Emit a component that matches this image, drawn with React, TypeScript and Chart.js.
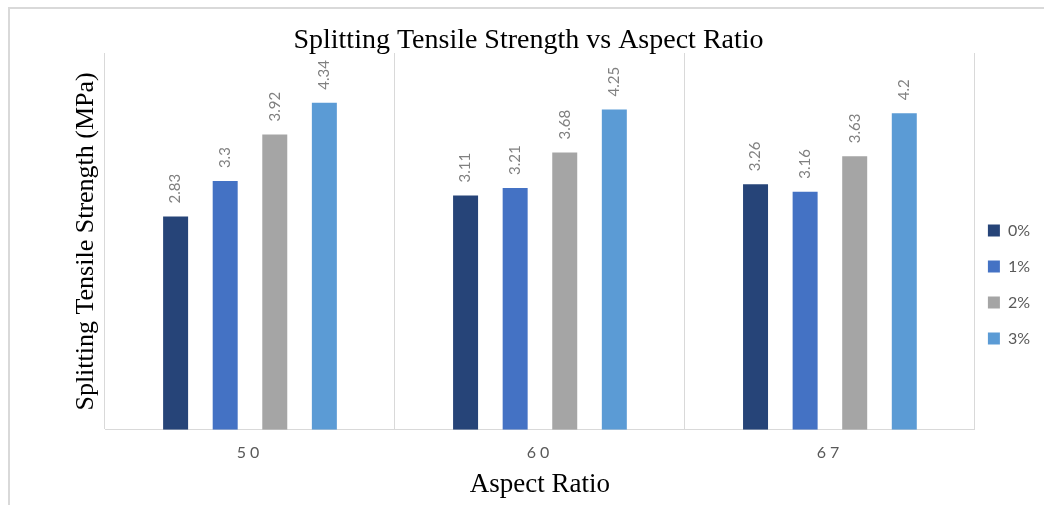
import React, { useEffect, useRef } from 'react';
import { Chart, registerables } from 'chart.js';

Chart.register(...registerables);

// Aspect ratio categories and fibre content series
const aspectRatios = ['50', '60', '67'];
const fiberContents = ['0%', '1%', '2%', '3%'];

// Splitting tensile strength (MPa) per fibre content
const strength0 = [2.83, 3.11, 3.26];
const strength1 = [3.3, 3.21, 3.16];
const strength2 = [3.92, 3.68, 3.63];
const strength3 = [4.34, 4.25, 4.2];

const seriesColors = ['#264478', '#4472C4', '#A5A5A5', '#5B9BD5'];

// Rotated value labels above each bar
const barValueLabels = {
  id: 'barValueLabels',
  afterDatasetsDraw(chart: any) {
    const ctx = chart.ctx;
    ctx.save();
    ctx.font = '15px Lato';
    ctx.fillStyle = '#808080';
    ctx.textAlign = 'left';
    ctx.textBaseline = 'middle';
    chart.data.datasets.forEach((ds: any, di: number) => {
      const meta = chart.getDatasetMeta(di);
      meta.data.forEach((bar: any, i: number) => {
        ctx.save();
        ctx.translate(bar.x, bar.y - 13);
        ctx.rotate(-Math.PI / 2);
        ctx.fillText(String(ds.data[i]), 0, 0);
        ctx.restore();
      });
    });
    ctx.restore();
  },
};

// Spread out the category tick labels a little
const spacedTicks = {
  id: 'spacedTicks',
  beforeDraw(chart: any) {
    const sc = chart.scales.x;
    if (sc && !sc._spaced) {
      const orig = sc.drawLabels.bind(sc);
      sc.drawLabels = (area: any) => {
        const c = chart.ctx;
        c.save();
        c.letterSpacing = '4px';
        orig(area);
        c.restore();
      };
      sc._spaced = true;
    }
  },
};

// Pull the legend closer to the plot area and lower it a bit
const legendNudge = {
  id: 'legendNudge',
  afterLayout(chart: any) {
    const lg = chart.legend;
    if (lg) {
      lg.left -= 7;
      lg.right -= 7;
      lg.top += 24;
      lg.bottom += 16;
    }
  },
};

export default function App() {
  const canvasRef = useRef<HTMLCanvasElement | null>(null);

  useEffect(() => {
    if (!canvasRef.current) return;
    const seriesValues = [strength0, strength1, strength2, strength3];
    const chart = new Chart(canvasRef.current, {
      type: 'bar',
      data: {
        labels: aspectRatios,
        datasets: fiberContents.map((name, i) => ({
          label: name,
          data: seriesValues[i],
          backgroundColor: seriesColors[i],
          borderWidth: 0,
          categoryPercentage: 0.684,
          barPercentage: 0.504,
        })),
      },
      options: {
        responsive: false,
        animation: false,
        devicePixelRatio: 1,
        layout: { padding: { left: 10, right: -3, top: 24, bottom: 0 } },
        plugins: {
          title: {
            display: true,
            text: 'Splitting Tensile Strength vs Aspect Ratio',
            color: '#000000',
            font: { family: '"Liberation Serif"', size: 28, weight: 'normal', lineHeight: 1 },
            padding: { top: 3, bottom: -2 },
          },
          legend: {
            position: 'right',
            labels: {
              boxWidth: 12,
              boxHeight: 12,
              padding: 20,
              color: '#595959',
              font: { family: 'Lato', size: 16 },
            },
          },
          tooltip: { enabled: false },
        },
        scales: {
          x: {
            grid: { offset: true, color: '#d9d9d9', drawTicks: false },
            border: { color: '#d9d9d9' },
            ticks: { color: '#595959', font: { family: 'Lato', size: 16 }, padding: 13 },
            title: {
              display: true,
              text: 'Aspect Ratio',
              color: '#000000',
              font: { family: '"Liberation Serif"', size: 27, lineHeight: 1 },
              padding: { top: -3.5, bottom: 6.5 },
            },
          },
          y: {
            min: 0,
            max: 5,
            grid: { display: false, drawTicks: false },
            border: { display: false },
            ticks: { display: false },
            title: {
              display: true,
              text: 'Splitting Tensile Strength (MPa)',
              color: '#000000',
              font: { family: '"Liberation Serif"', size: 26, lineHeight: 1 },
              padding: { top: 63, bottom: 6 },
            },
          },
        },
      },
      plugins: [barValueLabels, spacedTicks, legendNudge],
    });
    return () => chart.destroy();
  }, []);

  return (
    <div style={{ position: 'fixed', left: 0, top: 0, width: 1044, height: 505, background: '#ffffff' }}>
      <div
        style={{
          position: 'absolute',
          left: 8,
          top: 7,
          right: 0,
          bottom: 0,
          borderLeft: '2px solid #d9d9d9',
          borderTop: '2px solid #d9d9d9',
        }}
      />
      <canvas
        ref={canvasRef}
        width={1044}
        height={505}
        style={{ position: 'absolute', left: 0, top: 0, width: 1044, height: 505 }}
      />
    </div>
  );
}
